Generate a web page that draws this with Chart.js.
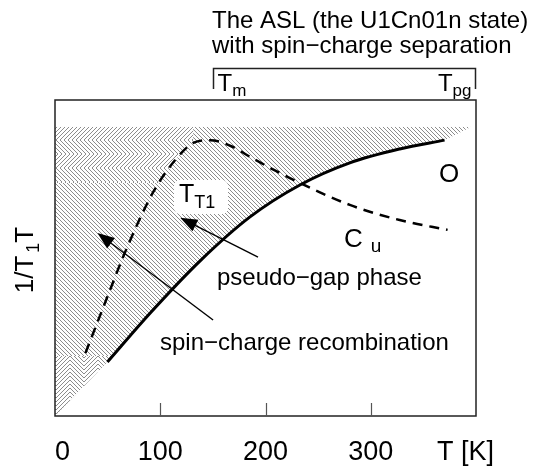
<!DOCTYPE html>
<html><head><meta charset="utf-8">
<script src="https://cdn.jsdelivr.net/npm/chart.js@4.4.1/dist/chart.umd.min.js"></script>
<style>html,body{margin:0;padding:0;background:#fff;}canvas{display:block;}</style>
</head><body>
<canvas id="c" width="544" height="466"></canvas>
<script>
// ---- data (T in K, 1/T1T in arbitrary units 0..100) ----
const solidT  = [49.8, 90.5, 137.9, 185.3, 232.7, 280.1, 327.5, 370.1];
const solidV  = [17.1, 32.6, 49.1, 63.0, 73.1, 80.1, 84.5, 87.3];
const dashedT = [28.9, 46.0, 68.7, 93.4, 114.2, 131.3, 147.4, 169.2, 185.3, 223.2, 280.1, 327.5, 373.0];
const dashedV = [19.9, 34.5, 53.5, 70.9, 81.0, 86.4, 87.3, 85.1, 82.0, 75.3, 66.8, 62.0, 58.9];
const xTickValues = [100, 200, 300];
const xLabelValues = [0, 100, 200, 300];
const xLabelTexts = ['0', '100', '200', '300'];
const bracketT = [150, 400];           // T_m .. T_pg
const hatchTopV = 91.5;                // upper edge of hatched region
const hatchEndT = 395.7;               // right end of hatched region
const chevronBandV = 73.7;             // lower edge of chevron band
const cornerBandV = 19.0;              // upper edge of corner chevrons
// arrows: [tailT, tailV, tipT, tipV]
const arrowPseudo = [192.9, 50.3, 119.0, 62.7];
const arrowRecomb = [150.2, 30.4, 40.3, 57.9];

const FONT = 'Liberation Sans, Arial, Helvetica, sans-serif';

function makePattern(kind){
  const S = 28, c = document.createElement('canvas');
  c.width = S; c.height = S;
  const g = c.getContext('2d');
  g.strokeStyle = '#8c8c8c'; g.lineWidth = 1;
  g.beginPath();
  for (let k = -2*S; k <= 2*S; k += 4){
    if (kind === 'diag'){ g.moveTo(k, 0); g.lineTo(k + S, S); }
    else if (kind === 'right'){ g.moveTo(k, 0); g.lineTo(k + S/2, S/2); g.lineTo(k, S); }
    else if (kind === 'up'){ g.moveTo(0, k + S/2); g.lineTo(S/2, k); g.lineTo(S, k + S/2); }
  }
  g.stroke();
  return g.createPattern(c, 'repeat');
}

function rich(ctx, parts, x, y, align){
  let w = 0;
  parts.forEach(p => { ctx.font = p.size + 'px ' + FONT; p.w = ctx.measureText(p.t).width; w += p.w + (p.gap||0); });
  let cx = align === 'center' ? x - w/2 : (align === 'right' ? x - w : x);
  parts.forEach(p => { ctx.font = p.size + 'px ' + FONT; ctx.fillText(p.t, cx + (p.gap||0), y + (p.dy||0)); cx += p.w + (p.gap||0); });
}

function arrow(ctx, xs, ys, a){
  const x0 = xs.getPixelForValue(a[0]), y0 = ys.getPixelForValue(a[1]);
  const x1 = xs.getPixelForValue(a[2]), y1 = ys.getPixelForValue(a[3]);
  const ang = Math.atan2(y1 - y0, x1 - x0), L = 17, H = 6.5;
  ctx.strokeStyle = '#000'; ctx.lineWidth = 1.4;
  ctx.beginPath(); ctx.moveTo(x0, y0);
  ctx.lineTo(x1 - (L-2)*Math.cos(ang), y1 - (L-2)*Math.sin(ang)); ctx.stroke();
  ctx.fillStyle = '#000';
  ctx.beginPath(); ctx.moveTo(x1, y1);
  ctx.lineTo(x1 - L*Math.cos(ang) + H*Math.sin(ang), y1 - L*Math.sin(ang) - H*Math.cos(ang));
  ctx.lineTo(x1 - L*Math.cos(ang) - H*Math.sin(ang), y1 - L*Math.sin(ang) + H*Math.cos(ang));
  ctx.closePath(); ctx.fill();
}

function tracePts(ctx, pts, reverse){
  if (!reverse){
    for (let i = 1; i < pts.length; i++){ const p = pts[i-1], q = pts[i];
      ctx.bezierCurveTo(p.cp2x, p.cp2y, q.cp1x, q.cp1y, q.x, q.y); }
  } else {
    for (let i = pts.length - 1; i > 0; i--){ const p = pts[i], q = pts[i-1];
      ctx.bezierCurveTo(p.cp1x, p.cp1y, q.cp2x, q.cp2y, q.x, q.y); }
  }
}

const hatchPlugin = {
  id: 'hatch',
  beforeDatasetsDraw(chart){
    const ctx = chart.ctx, xs = chart.scales.x, ys = chart.scales.y;
    const sp = chart.getDatasetMeta(0).data, dp = chart.getDatasetMeta(1).data;
    const X = v => xs.getPixelForValue(v), Y = v => ys.getPixelForValue(v);
    ctx.save();
    // main hatched region
    ctx.beginPath();
    ctx.moveTo(X(0), Y(0)); ctx.lineTo(sp[0].x, sp[0].y);
    tracePts(ctx, sp, false);
    ctx.lineTo(X(hatchEndT), Y(hatchTopV)); ctx.lineTo(X(0), Y(hatchTopV)); ctx.closePath();
    ctx.clip();
    ctx.fillStyle = makePattern('diag');
    ctx.fillRect(X(0), Y(hatchTopV), X(400) - X(0), Y(0) - Y(hatchTopV));
    // left of dashed curve, top band: chevrons
    const peak = 5;
    ctx.save();
    ctx.beginPath();
    ctx.moveTo(X(0), Y(hatchTopV)); ctx.lineTo(X(dashedT[peak]), Y(hatchTopV));
    ctx.lineTo(dp[peak].x, dp[peak].y);
    tracePts(ctx, dp.slice(0, peak + 1), true);
    ctx.lineTo(X(0), Y(0)); ctx.closePath();
    ctx.clip();
    ctx.beginPath(); ctx.rect(X(0), Y(hatchTopV), X(400), Y(chevronBandV) - Y(hatchTopV)); ctx.clip();
    ctx.fillStyle = '#fff'; ctx.fillRect(0, 0, chart.width, chart.height);
    ctx.fillStyle = makePattern('right'); ctx.fillRect(0, 0, chart.width, chart.height);
    ctx.restore();
    // bottom-left corner chevrons
    ctx.save();
    ctx.beginPath(); ctx.rect(X(0), Y(cornerBandV), X(400), Y(0) - Y(cornerBandV)); ctx.clip();
    ctx.fillStyle = '#fff'; ctx.fillRect(0, 0, chart.width, chart.height);
    ctx.fillStyle = makePattern('up'); ctx.fillRect(0, 0, chart.width, chart.height);
    ctx.restore();
    ctx.restore();
    // white label box for T_T1
    ctx.save();
    ctx.fillStyle = '#fff';
    ctx.beginPath();
    if (ctx.roundRect) ctx.roundRect(174, 180, 54, 34, 6); else ctx.rect(174, 180, 54, 34);
    ctx.fill();
    ctx.fillStyle = '#000'; ctx.textBaseline = 'alphabetic';
    rich(ctx, [{t:'T', size:25}, {t:'T1', size:18, dy:6}], 179, 202, 'left');
    ctx.restore();
  },
  afterDatasetsDraw(chart){
    const ctx = chart.ctx, xs = chart.scales.x, ys = chart.scales.y, a = chart.chartArea;
    const X = v => xs.getPixelForValue(v);
    ctx.save();
    arrow(ctx, xs, ys, arrowPseudo);
    arrow(ctx, xs, ys, arrowRecomb);
    // box
    ctx.strokeStyle = '#222'; ctx.lineWidth = 1.5;
    ctx.strokeRect(a.left, a.top, a.right - a.left, a.bottom - a.top);
    // inward ticks
    ctx.strokeStyle = '#555'; ctx.lineWidth = 1.2;
    xTickValues.forEach(v => { const x = Math.round(X(v)) + 0.5; ctx.beginPath(); ctx.moveTo(x, a.bottom); ctx.lineTo(x, a.bottom - 13); ctx.stroke(); });
    // tick labels
    ctx.fillStyle = '#000'; ctx.textBaseline = 'alphabetic';
    ctx.font = '27px ' + FONT;
    xLabelValues.forEach((v, i) => {
      ctx.textAlign = v === 0 ? 'left' : 'center';
      ctx.fillText(xLabelTexts[i], v === 0 ? X(v) : X(v), 460);
    });
    ctx.textAlign = 'left';
    ctx.fillText('T [K]', 437, 460);
    // y label
    ctx.save();
    ctx.translate(33, (a.top + a.bottom) / 2 + 2);
    ctx.rotate(-Math.PI / 2);
    rich(ctx, [{t:'1/T', size:26}, {t:'1', size:18, dy:6, gap:3}, {t:'T', size:26}], 0, 0, 'center');
    ctx.restore();
    // in-plot labels
    ctx.font = '24px ' + FONT;
    ctx.fillText('pseudo\u2212gap phase', 217, 285);
    ctx.fillText('spin\u2212charge recombination', 160, 350);
    ctx.font = '26px ' + FONT;
    ctx.fillText('O', 439, 182);
    rich(ctx, [{t:'C', size:26}, {t:'u', size:19, dy:5, gap:8}], 344, 247, 'left');
    // title + bracket
    ctx.font = '24px ' + FONT;
    ctx.fillText('The ASL (the U1Cn01n state)', 212, 28);
    ctx.fillText('with spin\u2212charge separation', 212, 53);
    const bl = Math.round(X(bracketT[0])) + 0.5, br = Math.round(X(bracketT[1])) - 0.5;
    ctx.strokeStyle = '#222'; ctx.lineWidth = 1.5;
    ctx.beginPath(); ctx.moveTo(bl, 89); ctx.lineTo(bl, 68.5); ctx.lineTo(br, 68.5); ctx.lineTo(br, 89); ctx.stroke();
    rich(ctx, [{t:'T', size:24}, {t:'m', size:17, dy:5}], bl + 4, 91, 'left');
    rich(ctx, [{t:'T', size:24}, {t:'pg', size:17, dy:5}], br - 4, 91, 'right');
    ctx.restore();
  }
};

new Chart(document.getElementById('c').getContext('2d'), {
  type: 'line',
  data: { datasets: [
    { label: 'O', data: solidT.map((t, i) => ({x: t, y: solidV[i]})),
      borderColor: '#000', borderWidth: 3, pointRadius: 0, fill: false, cubicInterpolationMode: 'monotone' },
    { label: 'Cu', data: dashedT.map((t, i) => ({x: t, y: dashedV[i]})),
      borderColor: '#000', borderWidth: 2.5, borderDash: [10, 7], pointRadius: 0, fill: false, cubicInterpolationMode: 'monotone' }
  ]},
  options: {
    responsive: false, animation: false, events: [],
    layout: { padding: { left: 55, top: 100, right: 68, bottom: 50 } },
    scales: {
      x: { type: 'linear', min: 0, max: 400, display: false },
      y: { type: 'linear', min: 0, max: 100, display: false }
    },
    plugins: { legend: { display: false }, tooltip: { enabled: false } }
  },
  plugins: [hatchPlugin]
});
</script>
</body></html>
